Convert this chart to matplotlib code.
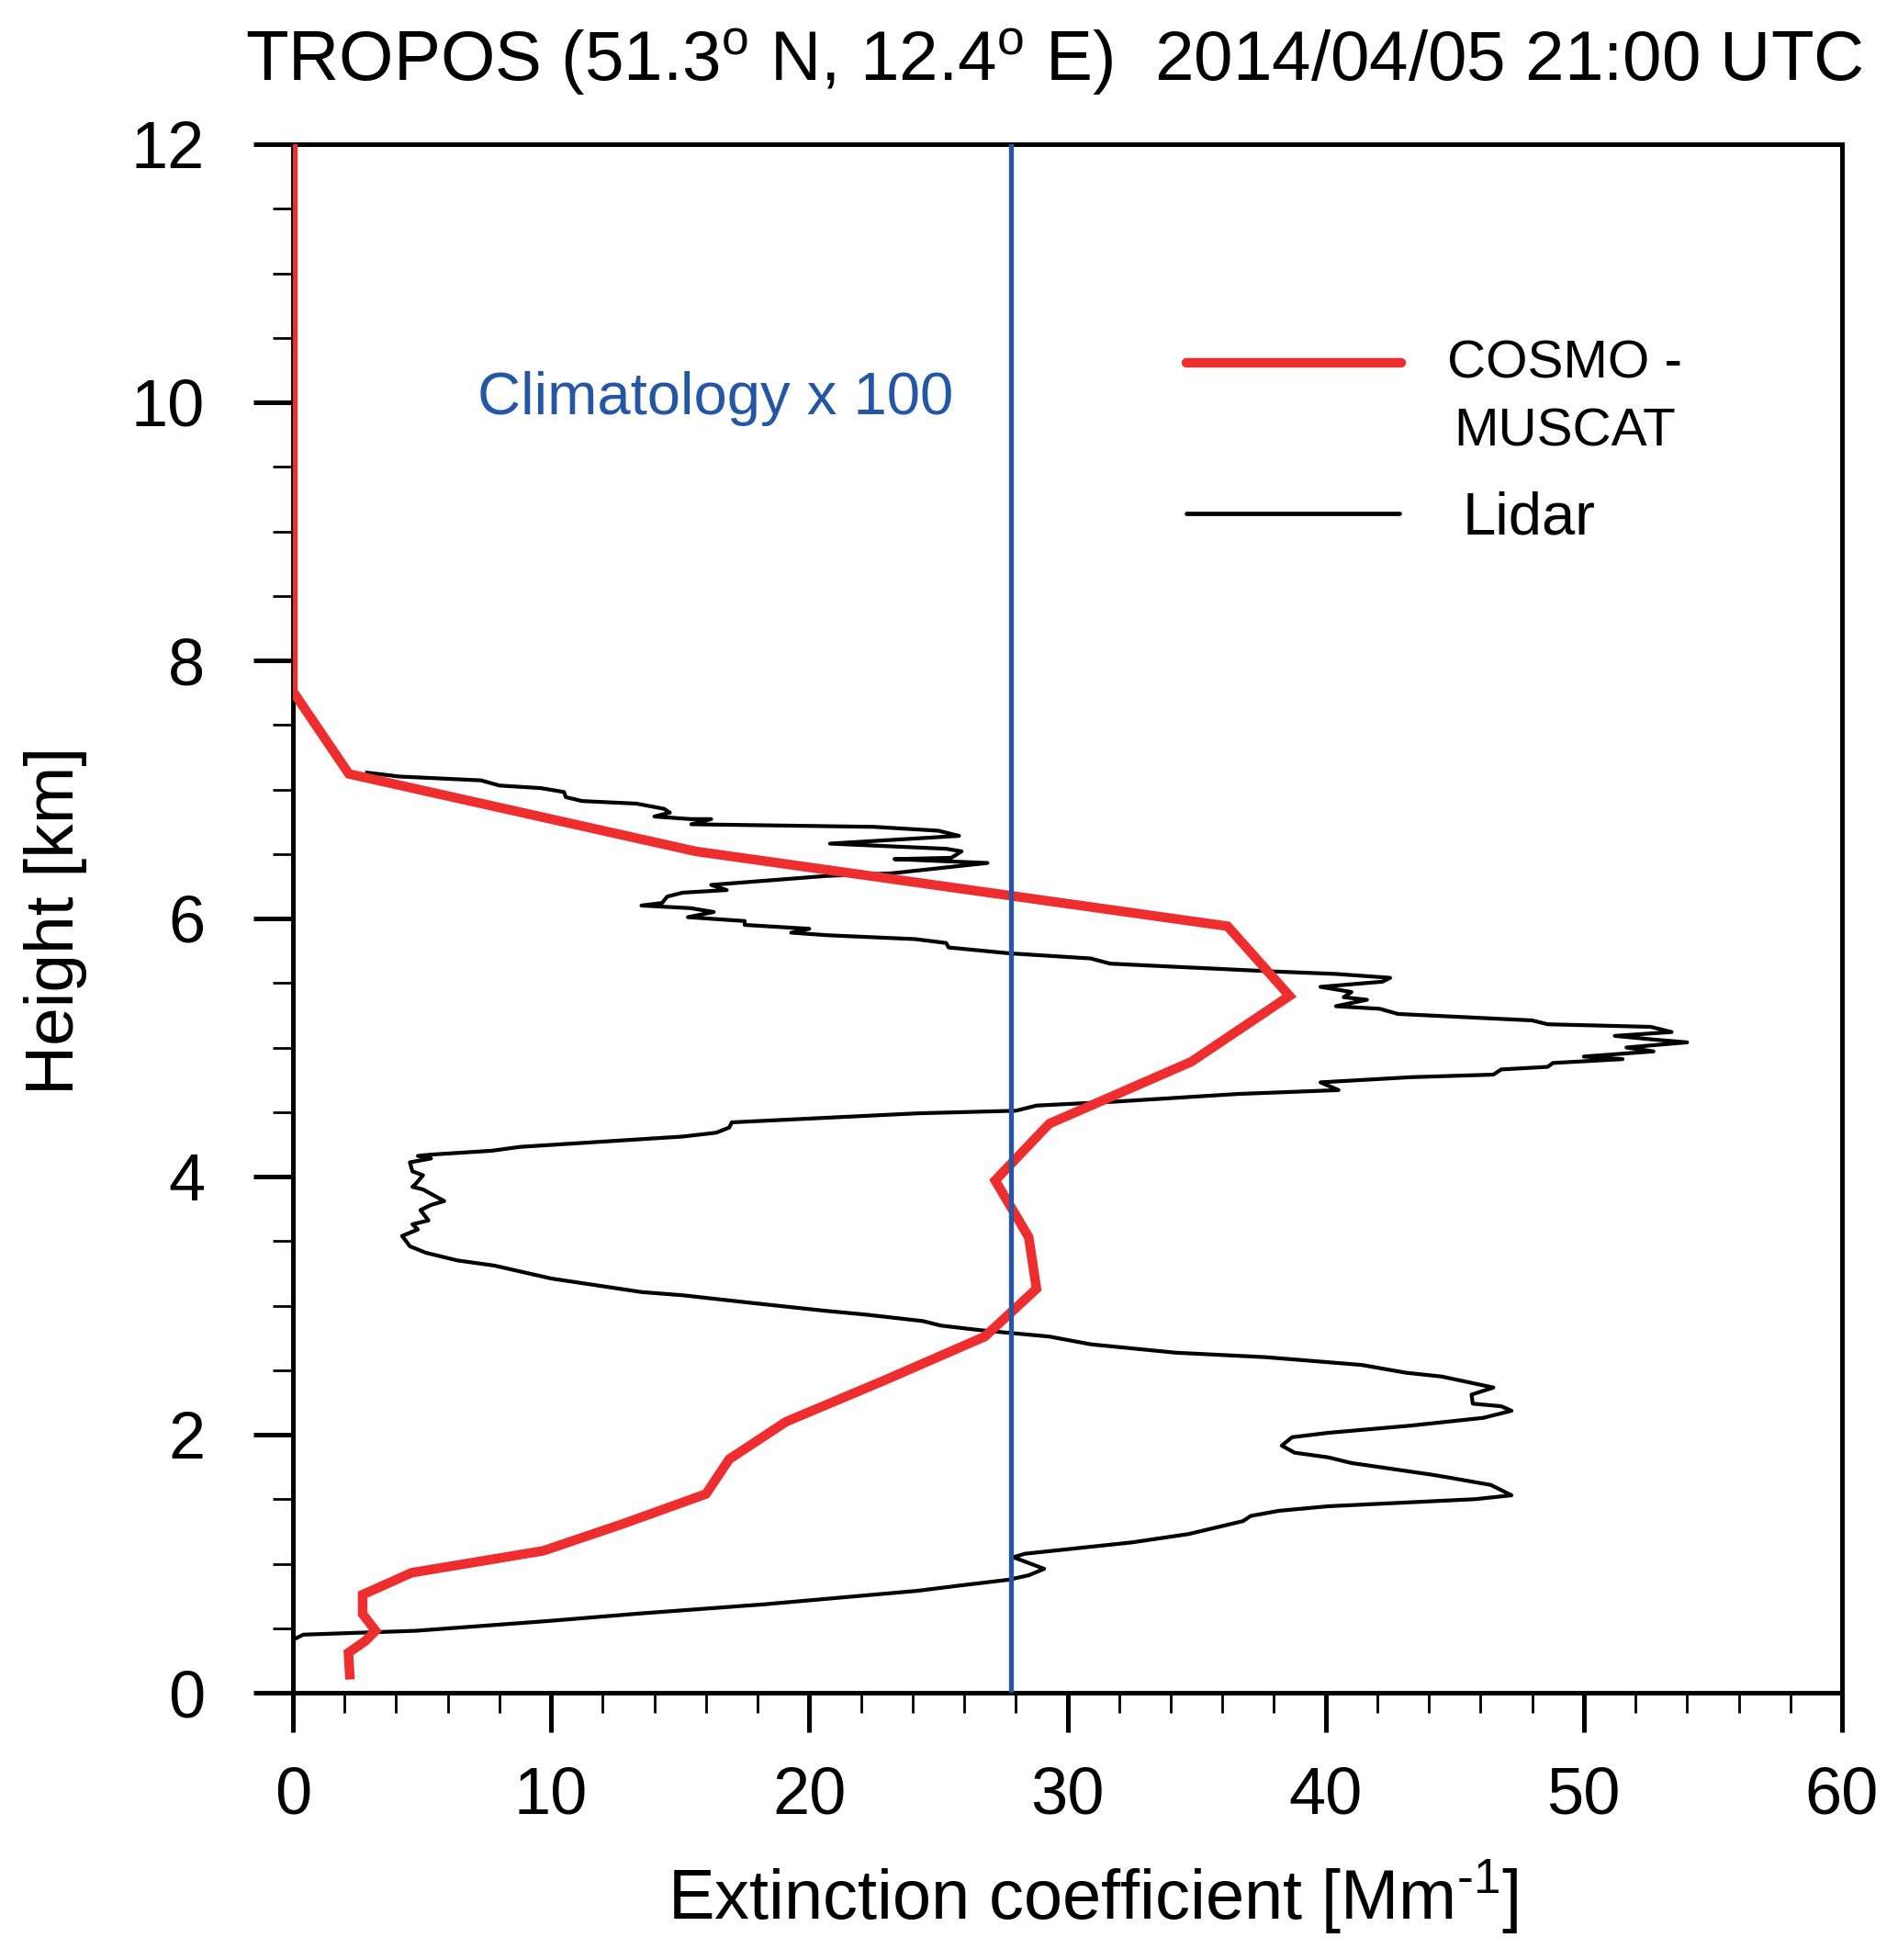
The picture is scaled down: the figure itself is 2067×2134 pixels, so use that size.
import numpy as np
import matplotlib
matplotlib.use("Agg")
import matplotlib.pyplot as plt
from matplotlib.lines import Line2D

plt.rcParams['font.family'] = ['Liberation Sans', 'DejaVu Sans']
plt.rcParams['mathtext.fontset'] = 'custom'
plt.rcParams['mathtext.rm'] = 'Liberation Sans'
plt.rcParams['mathtext.it'] = 'Liberation Sans:italic'

# COSMO-MUSCAT model profile (extinction Mm-1, height km)
cosmo_ext = [0.0, 0.0, 2.17, 15.6, 36.2, 38.6, 34.8, 29.3, 27.2, 28.5, 28.8, 26.8,
             22.9, 19.1, 16.9, 16.0, 12.8, 9.7, 4.6, 2.7, 2.7, 3.2, 2.8, 2.15, 2.2]
cosmo_h = [12.0, 7.76, 7.12, 6.52, 5.94, 5.40, 4.89, 4.41, 3.97, 3.53, 3.13, 2.76,
           2.42, 2.10, 1.81, 1.54, 1.31, 1.10, 0.93, 0.76, 0.61, 0.48, 0.40, 0.31, 0.14]

# lidar profile
lidar_ext = [2.87, 4.11, 7.29, 8.0, 9.6, 10.5, 10.57, 11.2, 13.3, 14.37, 14.6, 14.0,
             15.4, 16.2, 15.43, 22.5, 25.0, 25.8, 20.8, 25.3, 25.9, 25.5, 23.3, 26.9,
             25.5, 23.2, 20.7, 16.85, 16.2, 16.8, 15.1, 14.5, 14.3, 13.5, 15.4, 16.3,
             15.3, 17.5, 17.5, 20.0, 19.3, 20.7, 24.1, 25.3, 25.4, 27.74, 30.9, 31.65,
             33.7, 37.9, 40.4, 42.5, 42.2, 39.8, 41.0, 40.7, 41.6, 40.4, 42.1, 42.8,
             48.0, 48.6, 52.6, 53.4, 51.2, 52.8, 54.0, 51.65, 52.7, 50.0, 51.5, 48.8,
             48.6, 46.8, 46.5, 43.3, 39.8, 40.5, 36.6, 31.8, 28.8, 28.0, 24.2, 17.0,
             16.9, 16.4, 15.1, 8.8, 7.7, 5.35, 4.84, 5.35, 4.53, 4.63, 5.04, 4.74,
             4.63, 5.04, 5.86, 5.35, 4.94, 5.25, 4.63, 4.84, 4.23, 4.53, 5.14, 6.37,
             7.8, 10.0, 13.5, 15.1, 17.8, 20.6, 22.2, 24.4, 25.1, 26.6, 29.3, 30.9,
             34.2, 37.7, 41.4, 43.1, 44.5, 46.5, 45.65, 45.7, 46.8, 47.2, 46.1, 43.3,
             40.1, 38.7, 38.3, 38.8, 40.1, 41.0, 44.1, 44.7, 46.4, 47.2, 45.8, 40.1,
             38.2, 37.1, 36.8, 34.7, 32.5, 28.35, 27.9, 28.4, 29.1, 28.5, 27.7, 25.8,
             24.2, 22.5, 18.25, 13.5, 9.84, 4.76, 0.4, 0.0]
lidar_h = [7.13, 7.10, 7.07, 7.03, 7.01, 6.98, 6.94, 6.91, 6.89, 6.85, 6.82, 6.79,
           6.77, 6.77, 6.73, 6.71, 6.68, 6.64, 6.58, 6.54, 6.52, 6.47, 6.46, 6.43,
           6.40, 6.35, 6.33, 6.27, 6.26, 6.22, 6.20, 6.17, 6.12, 6.10, 6.08, 6.05,
           6.01, 5.98, 5.95, 5.92, 5.89, 5.87, 5.84, 5.81, 5.775, 5.73, 5.69, 5.65,
           5.63, 5.59, 5.57, 5.54, 5.51, 5.47, 5.43, 5.39, 5.37, 5.32, 5.30, 5.26,
           5.21, 5.18, 5.16, 5.12, 5.09, 5.06, 5.04, 5.00, 4.97, 4.93, 4.91, 4.88,
           4.85, 4.83, 4.79, 4.77, 4.73, 4.67, 4.64, 4.58, 4.55, 4.51, 4.49, 4.42,
           4.38, 4.34, 4.31, 4.23, 4.20, 4.17, 4.16, 4.14, 4.11, 4.04, 4.01, 3.94,
           3.92, 3.90, 3.81, 3.78, 3.74, 3.66, 3.63, 3.59, 3.54, 3.46, 3.41, 3.35,
           3.31, 3.21, 3.105, 3.08, 3.02, 2.96, 2.93, 2.88, 2.845, 2.81, 2.76, 2.70,
           2.635, 2.60, 2.54, 2.48, 2.45, 2.365, 2.31, 2.24, 2.22, 2.185, 2.13, 2.07,
           2.014, 1.98, 1.915, 1.86, 1.824, 1.78, 1.69, 1.67, 1.61, 1.53, 1.50, 1.445,
           1.41, 1.37, 1.33, 1.23, 1.165, 1.077, 1.05, 1.013, 0.96, 0.91, 0.875, 0.83,
           0.79, 0.76, 0.685, 0.615, 0.555, 0.48, 0.45, 0.41]

clim_ext = 27.8  # climatology x 100

red = '#ee2e2e'
blue = '#2357a6'

W, H = 2067, 2134
fig = plt.figure(figsize=(W / 100, H / 100), dpi=100)
ax = fig.add_axes([319 / W, 1 - 1843 / H, 1687 / W, 1686 / H])

ax.plot(lidar_ext, lidar_h, color='black', lw=3.0, zorder=2)
ax.plot(cosmo_ext, cosmo_h, color=red, lw=7.5, solid_joinstyle='miter', zorder=3)
ax.axvline(clim_ext, color=blue, lw=3.8, zorder=4)

ax.set_xlim(0, 60)
ax.set_ylim(0, 12)
ax.set_xticks(np.arange(0, 61, 10))
ax.set_yticks(np.arange(0, 13, 2))
ax.set_xticks(np.arange(0, 61, 2), minor=True)
ax.set_yticks(np.arange(0, 12.1, 0.5), minor=True)
for s in ax.spines.values():
    s.set_linewidth(3.6)
ax.tick_params(which='major', direction='out', length=31, width=3.6,
               labelsize=52, top=False, right=False)
ax.tick_params(which='minor', direction='out', length=16, width=2,
               top=False, right=False)
ax.tick_params(axis='y', which='major', pad=38)
ax.tick_params(axis='x', which='major', pad=26)

fig.text(267 / W, 1 - 88 / H,
         r'TROPOS (51.3$^{\rm o}$ N, 12.4$^{\rm o}$ E)  2014/04/05 21:00 UTC',
         fontsize=55, ha='left', va='baseline')
fig.text(1190 / W, 1 - 2090 / H, 'Extinction coefficient [Mm$^{\\rm \u20101}$]',
         fontsize=54.5, ha='center', va='baseline')
fig.text(61 / W, 1 - 1002 / H, 'Height [km]', fontsize=54, rotation=90,
         ha='center', va='center')

ax.text(520 / W, 1 - 451 / H, 'Climatology x 100', color=blue, fontsize=47,
        ha='left', va='baseline', transform=fig.transFigure)

# legend
fig.add_artist(Line2D([1292 / W, 1526 / W], [1 - 395 / H, 1 - 395 / H],
                      color=red, lw=7.5, solid_capstyle='round'))
fig.add_artist(Line2D([1292 / W, 1524 / W], [1 - 559 / H, 1 - 559 / H],
                      color='black', lw=3.4, solid_capstyle='round'))
fig.text(1576 / W, 1 - 412 / H, 'COSMO -', fontsize=42, ha='left', va='baseline')
fig.text(1583 / W, 1 - 485 / H, 'MUSCAT', fontsize=42, ha='left', va='baseline')
fig.text(1593 / W, 1 - 582 / H, 'Lidar', fontsize=47, ha='left', va='baseline')

fig.savefig('out.png', dpi=100)
